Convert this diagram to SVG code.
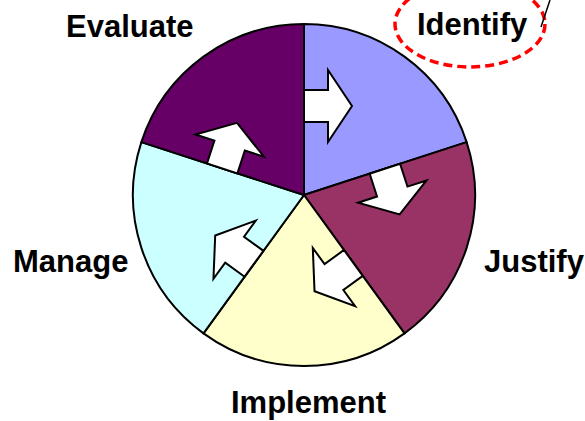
<svg xmlns="http://www.w3.org/2000/svg" width="585" height="421" viewBox="0 0 585 421">
  <style>
    .sector { stroke: #000; stroke-width: 2; stroke-linejoin: round; }
    .label { font-family: "Liberation Sans", Arial, sans-serif; font-weight: bold; font-size: 31px; fill: #000; }
    .flow { fill: #fff; stroke: #000; stroke-width: 2; stroke-linejoin: miter; }
  </style>
  <defs>
    <!-- block arrow, base on the origin, pointing along +x -->
    <path id="blockArrow" d="M0,-16 L24,-16 L24,-36 L48,0 L24,36 L24,16 L0,16 Z"/>
  </defs>

  <rect width="585" height="421" fill="#fff"/>

  <!-- pie of five stages, centre (304,195), radius 171 -->
  <g id="identify">
    <path class="sector" fill="#9999FF" d="M304,195 L304,24 A171,171 0 0 1 466.63,142.16 Z"/>
    <text class="label" x="417" y="35">Identify</text>
  </g>
  <g id="justify">
    <path class="sector" fill="#993366" d="M304,195 L466.63,142.16 A171,171 0 0 1 404.51,333.34 Z"/>
    <text class="label" x="484" y="272">Justify</text>
  </g>
  <g id="implement">
    <path class="sector" fill="#FFFFCC" d="M304,195 L404.51,333.34 A171,171 0 0 1 203.49,333.34 Z"/>
    <text class="label" x="231" y="413">Implement</text>
  </g>
  <g id="manage">
    <path class="sector" fill="#CCFFFF" d="M304,195 L203.49,333.34 A171,171 0 0 1 141.37,142.16 Z"/>
    <text class="label" x="13" y="272">Manage</text>
  </g>
  <g id="evaluate">
    <path class="sector" fill="#660066" d="M304,195 L141.37,142.16 A171,171 0 0 1 304,24 Z"/>
    <text class="label" x="66" y="37">Evaluate</text>
  </g>

  <!-- clockwise flow arrows between stages -->
  <g id="connectors">
    <use href="#blockArrow" class="flow" transform="translate(304 195) rotate(0) translate(0 -89)"/>
    <use href="#blockArrow" class="flow" transform="translate(304 195) rotate(72) translate(0 -85)"/>
    <use href="#blockArrow" class="flow" transform="translate(304 195) rotate(144) translate(0 -84)"/>
    <use href="#blockArrow" class="flow" transform="translate(304 195) rotate(216) translate(0 -85)"/>
    <use href="#blockArrow" class="flow" transform="translate(304 195) rotate(288) translate(0 -86)"/>
  </g>

  <!-- highlight callout on the first stage -->
  <g id="callout">
    <ellipse cx="470" cy="24" rx="75" ry="43" fill="none" stroke="#FF0000" stroke-width="3.5" stroke-dasharray="9 5"/>
    <line x1="541" y1="27" x2="550" y2="0" stroke="#000" stroke-width="1.5"/>
  </g>
</svg>
